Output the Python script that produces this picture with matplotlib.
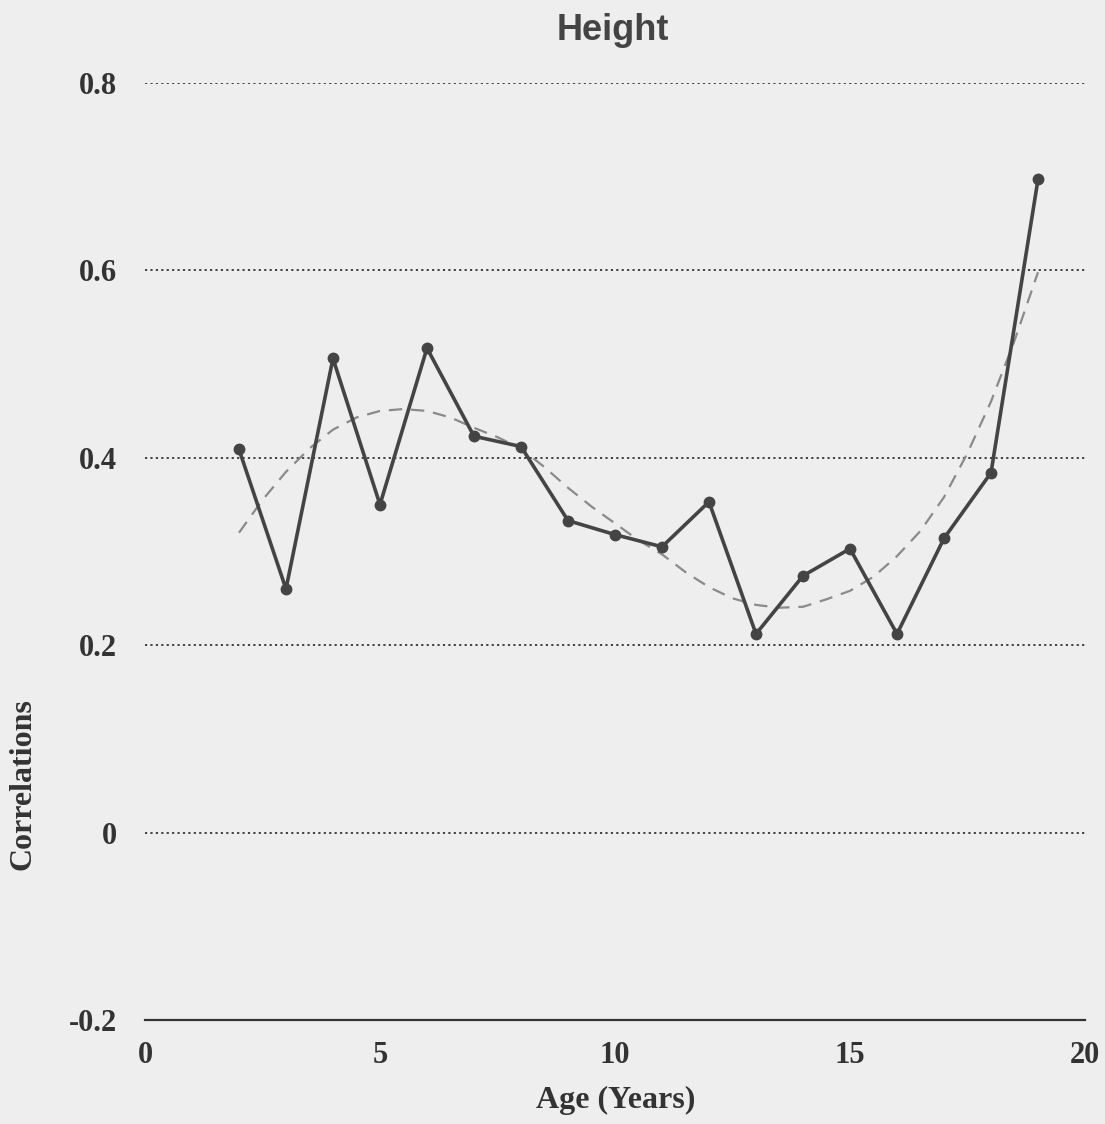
import numpy as np
import matplotlib.pyplot as plt

# observed correlations by age
ages = [2, 3, 4, 5, 6, 7, 8, 9, 10, 11, 12, 13, 14, 15, 16, 17, 18, 19]
corr = [0.409, 0.260, 0.506, 0.350, 0.517, 0.423, 0.412, 0.333, 0.318, 0.305,
        0.353, 0.212, 0.274, 0.303, 0.212, 0.314, 0.384, 0.697]

# smoothed trend (dashed)
trend_x = [2.0, 2.5, 3.0, 3.5, 4.0, 4.5, 5.0, 5.5, 6.0, 6.5, 7.0, 7.5, 8.0, 8.5,
           9.0, 9.5, 10.0, 10.5, 11.0, 11.5, 12.0, 12.5, 13.0, 13.5, 14.0, 14.5,
           15.0, 15.5, 16.0, 16.5, 17.0, 17.5, 18.0, 18.5, 19.0]
trend_y = [0.320, 0.355, 0.385, 0.410, 0.430, 0.443, 0.450, 0.452, 0.450, 0.443,
           0.432, 0.422, 0.410, 0.390, 0.368, 0.348, 0.330, 0.312, 0.297, 0.278,
           0.262, 0.250, 0.243, 0.240, 0.241, 0.249, 0.258, 0.273, 0.295, 0.322,
           0.358, 0.405, 0.460, 0.525, 0.598]

yticks = [-0.2, 0, 0.2, 0.4, 0.6, 0.8]
ytick_labels = ["-0.2", "0", "0.2", "0.4", "0.6", "0.8"]
xticks = [0, 5, 10, 15, 20]

bg = "#eeeeee"
serif = "Liberation Serif"
fig = plt.figure(figsize=(11.05, 11.24), dpi=100, facecolor=bg)
ax = fig.add_axes([0.1312, 0.0925, 0.8507, 0.8337], facecolor=bg)

for y in [0, 0.2, 0.4, 0.6, 0.8]:
    ax.axhline(y, color="#333333", lw=1.3, ls=(0, (1.2, 1.8)), zorder=1)

ax.plot(trend_x, trend_y, color="#8a8a8a", lw=1.6, ls=(0, (6, 4)), zorder=2)
ax.plot(ages, corr, color="#444444", lw=2.6, marker="o", markersize=7.5,
        markerfacecolor="#444444", markeredgecolor="#444444", zorder=3)

ax.set_xlim(0, 20)
ax.set_ylim(-0.2, 0.8)
ax.set_yticks(yticks)
ax.set_yticklabels(ytick_labels)
ax.set_xticks(xticks)

for s in ["left", "right", "top"]:
    ax.spines[s].set_visible(False)
ax.spines["bottom"].set_color("#333333")
ax.spines["bottom"].set_linewidth(1.6)
ax.tick_params(length=0, labelsize=22, colors="#333333")
ax.tick_params(axis="y", pad=20)
ax.tick_params(axis="x", pad=15)
for lab in ax.get_xticklabels() + ax.get_yticklabels():
    lab.set_fontfamily(serif)
    lab.set_fontweight("bold")

fig.text(0.557, 0.021, "Age (Years)", ha="center", va="center", fontsize=23,
         fontfamily=serif, fontweight="bold", color="#333333")
fig.text(0.021, 0.302, "Correlations", ha="center", va="center", fontsize=23,
         fontfamily=serif, fontweight="bold", color="#333333", rotation=90)
fig.text(0.555, 0.973, "Height", ha="center", va="center", fontsize=26,
         fontfamily="Liberation Sans", fontweight="bold", color="#444444")

plt.savefig("out.png", dpi=100, facecolor=bg)
